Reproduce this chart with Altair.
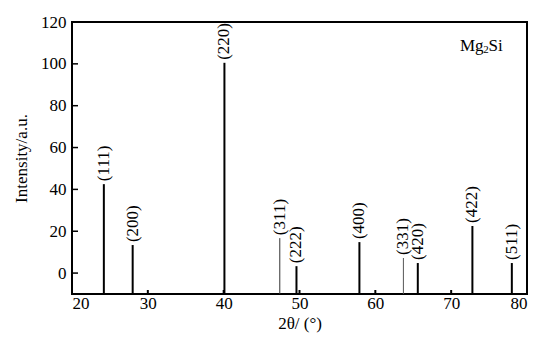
import altair as alt
import pandas as pd

# Peak data
hkl = ["(111)", "(200)", "(220)", "(311)", "(222)", "(400)", "(331)", "(420)", "(422)", "(511)"]
two_theta = [24.2, 28.0, 40.1, 47.4, 49.6, 57.9, 63.7, 65.6, 72.8, 78.0]
intensity = [42.5, 13.4, 100.5, 16.7, 3.3, 14.8, 7.2, 4.8, 22.5, 4.8]
line_w = [2, 2, 2, 1, 2, 2, 1, 2, 2, 2]
line_c = ["#000", "#000", "#000", "#333", "#000", "#000", "#555", "#000", "#000", "#000"]

x_ticks = [20, 30, 40, 50, 60, 70, 80]
x_inner_ticks = [30, 40, 50, 60, 70]
y_ticks = [0, 20, 40, 60, 80, 100, 120]
y_inner_ticks = [0, 20, 40, 60, 80, 100]

X_DOMAIN = [20, 80]
Y_DOMAIN = [-10, 120]
FONT = "Liberation Serif, Times New Roman, serif"

peaks = pd.DataFrame({"theta": two_theta, "I": intensity, "hkl": hkl, "w": line_w, "c": line_c})
xt = pd.DataFrame({"t": x_inner_ticks})
yt = pd.DataFrame({"t": y_inner_ticks})
anno = pd.DataFrame({"x": [74.6], "y": [108.5], "a": ["Mg"], "b": ["2"], "c": ["Si"]})

xs = alt.Scale(domain=X_DOMAIN, nice=False, zero=False)
ys = alt.Scale(domain=Y_DOMAIN, nice=False, zero=False)

x_axis = alt.Axis(values=x_ticks, title="2θ/ (°)", ticks=False, domain=False, grid=False,
                  labelFont=FONT, labelFontSize=17, labelColor="#000", labelPadding=1,
                  titleFont=FONT, titleFontSize=17, titleFontWeight="normal", titleColor="#000",
                  titlePadding=4)
y_axis = alt.Axis(values=y_ticks, title="Intensity/a.u.", ticks=False, domain=False, grid=False,
                  labelFont=FONT, labelFontSize=17, labelColor="#000", labelPadding=6,
                  titleFont=FONT, titleFontSize=17, titleFontWeight="normal", titleColor="#000",
                  titlePadding=10)

bars = alt.Chart(peaks).mark_rule().encode(
    x=alt.X("theta:Q", scale=xs, axis=x_axis),
    y=alt.Y("I:Q", scale=ys, axis=y_axis),
    y2=alt.datum(-10),
    strokeWidth=alt.StrokeWidth("w:Q", scale=None),
    color=alt.Color("c:N", scale=None),
)

labels = alt.Chart(peaks).mark_text(
    angle=270, align="left", baseline="middle", dx=3, font=FONT, fontSize=17, color="#000"
).encode(
    x=alt.X("theta:Q", scale=xs),
    y=alt.Y("I:Q", scale=ys),
    text="hkl:N",
)

yticks = alt.Chart(yt).mark_rule(color="#000", strokeWidth=1.5, x2Offset=6).encode(
    x=alt.datum(20, scale=xs),
    x2=alt.datum(20),
    y=alt.Y("t:Q", scale=ys),
)

xticks = alt.Chart(xt).mark_rule(color="#000", strokeWidth=2, y2Offset=-4).encode(
    x=alt.X("t:Q", scale=xs),
    y=alt.datum(-10, scale=ys),
    y2=alt.datum(-10),
)

base_anno = alt.Chart(anno).encode(x=alt.X("x:Q", scale=xs), y=alt.Y("y:Q", scale=ys))
mg_a = base_anno.mark_text(font=FONT, fontSize=17, color="#000", align="right", dx=-2.5).encode(text="a:N")
mg_b = base_anno.mark_text(font=FONT, fontSize=11, color="#000", align="center", dy=4).encode(text="b:N")
mg_c = base_anno.mark_text(font=FONT, fontSize=17, color="#000", align="left", dx=2.5).encode(text="c:N")

chart = alt.layer(bars, xticks, yticks, labels, mg_a, mg_b, mg_c).properties(
    width=455, height=272,
    autosize=alt.AutoSizeParams(type="none"),
    padding={"left": 72, "top": 22, "right": 11, "bottom": 44},
    background="white",
).configure_view(stroke="#000", strokeWidth=2)

chart.save("out.html", embed_options={"renderer": "svg", "actions": False})
